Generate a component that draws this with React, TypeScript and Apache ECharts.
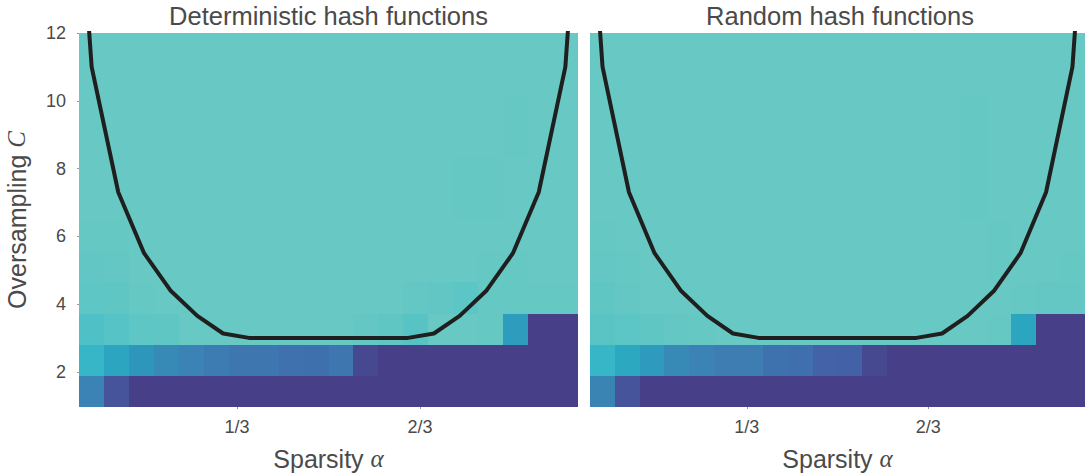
import React, { useEffect, useRef } from "react";
import * as echarts from "echarts";

// Panel headings
const panelTitles = ["Deterministic hash functions", "Random hash functions"];

// Axis extents and tick labels
const alphaRange = [1 / 22, 21 / 22];
const cRange = [0.96, 12];
const alphaTicks = [1 / 3, 2 / 3];
const alphaTickLabels = ["1/3", "2/3"];
const cTicks = [2, 4, 6, 8, 10, 12];

// Recovery rate per cell: rows are oversampling bins (bottom first), columns are sparsity bins
const detRows: number[][] = [
  [0.57, 0.21, 0, 0, 0, 0, 0, 0, 0, 0, 0, 0, 0, 0, 0, 0, 0, 0, 0, 0],
  [0.82, 0.76, 0.69, 0.62, 0.57, 0.52, 0.49, 0.48, 0.44, 0.43, 0.49, 0.11, 0, 0, 0, 0, 0, 0, 0, 0],
  [0.88, 0.91, 0.95, 0.96, 1, 1, 1, 1, 1, 1, 1, 0.98, 0.96, 0.92, 1, 1, 0.99, 0.72, 0, 0],
  [0.95, 0.96, 0.99, 1, 1, 1, 1, 1, 1, 1, 1, 1, 1, 0.98, 0.97, 0.94, 0.99, 0.99, 0.99, 0.99],
  [0.97, 0.98, 1, 1, 1, 1, 1, 1, 1, 1, 1, 1, 1, 1, 1, 1, 0.99, 0.99, 1, 1],
  [0.99, 0.99, 1, 1, 1, 1, 1, 1, 1, 1, 1, 1, 1, 1, 1, 1, 1, 1, 1, 1],
  [1, 1, 1, 1, 1, 1, 1, 1, 1, 1, 1, 1, 1, 1, 1, 0.99, 0.99, 1, 1, 1],
  [1, 1, 1, 1, 1, 1, 1, 1, 1, 1, 1, 1, 1, 1, 1, 0.99, 0.99, 1, 1, 1],
  [1, 1, 1, 1, 1, 1, 1, 1, 1, 1, 1, 1, 1, 1, 1, 1, 1, 0.99, 1, 1],
  [1, 1, 1, 1, 1, 1, 1, 1, 1, 1, 1, 1, 1, 1, 1, 1, 1, 0.99, 1, 1],
  [1, 1, 1, 1, 1, 1, 1, 1, 1, 1, 1, 1, 1, 1, 1, 1, 1, 1, 1, 1],
  [1, 1, 1, 1, 1, 1, 1, 1, 1, 1, 1, 1, 1, 1, 1, 1, 1, 1, 1, 1],
];

const randRows: number[][] = [
  [0.58, 0.21, 0, 0, 0, 0, 0, 0, 0, 0, 0, 0, 0, 0, 0, 0, 0, 0, 0, 0],
  [0.82, 0.77, 0.71, 0.62, 0.57, 0.53, 0.53, 0.45, 0.42, 0.31, 0.3, 0.11, 0, 0, 0, 0, 0, 0, 0, 0],
  [0.93, 0.94, 0.96, 0.98, 0.99, 1, 1, 1, 1, 1, 1, 1, 1, 1, 1, 1, 0.99, 0.76, 0, 0],
  [0.96, 0.98, 1, 1, 1, 1, 1, 1, 1, 1, 1, 1, 1, 1, 1, 1, 1, 0.99, 0.98, 0.98],
  [0.98, 0.99, 1, 1, 1, 1, 1, 1, 1, 1, 1, 1, 1, 1, 1, 1, 0.99, 1, 1, 0.99],
  [0.99, 1, 1, 1, 1, 1, 1, 1, 1, 1, 1, 1, 1, 1, 1, 1, 0.99, 1, 1, 1],
  [1, 1, 1, 1, 1, 1, 1, 1, 1, 1, 1, 1, 1, 1, 1, 0.99, 1, 1, 1, 1],
  [1, 1, 1, 1, 1, 1, 1, 1, 1, 1, 1, 1, 1, 1, 1, 0.99, 1, 1, 1, 1],
  [1, 1, 1, 1, 1, 1, 1, 1, 1, 1, 1, 1, 1, 1, 1, 0.99, 1, 1, 1, 1],
  [1, 1, 1, 1, 1, 1, 1, 1, 1, 1, 1, 1, 1, 1, 1, 0.99, 1, 1, 1, 1],
  [1, 1, 1, 1, 1, 1, 1, 1, 1, 1, 1, 1, 1, 1, 1, 1, 1, 1, 1, 1],
  [1, 1, 1, 1, 1, 1, 1, 1, 1, 1, 1, 1, 1, 1, 1, 1, 1, 1, 1, 1],
];

// Theoretical phase-transition boundary
const boundaryAlpha = [
  0.0205, 0.0685, 0.117, 0.164, 0.212, 0.261, 0.308, 0.355, 0.4025, 0.45, 0.5,
  0.55, 0.5975, 0.645, 0.692, 0.739, 0.788, 0.836, 0.883, 0.9315, 0.9795,
];
const boundaryC = [
  22, 11.0, 7.3, 5.5, 4.4, 3.65, 3.13, 3.0, 3.0, 3.0, 3.0,
  3.0, 3.0, 3.0, 3.13, 3.65, 4.4, 5.5, 7.3, 11.0, 22,
];

// Colour scale: rate -> colour
const colormap: [number, string][] = [
  [0.0, "#483F89"],
  [0.1, "#46478F"],
  [0.2, "#45529A"],
  [0.3, "#4361A6"],
  [0.4, "#3F6CAD"],
  [0.48, "#3E76B0"],
  [0.55, "#3D80B3"],
  [0.62, "#378AB6"],
  [0.7, "#2E98BC"],
  [0.76, "#2BA5C0"],
  [0.82, "#36B6C6"],
  [0.88, "#4FC0C6"],
  [0.94, "#5CC5C5"],
  [1.0, "#68C8C3"],
];

const hexToRgb = (h: string) => [
  parseInt(h.slice(1, 3), 16),
  parseInt(h.slice(3, 5), 16),
  parseInt(h.slice(5, 7), 16),
];

function colorFor(v: number): string {
  if (v <= colormap[0][0]) return colormap[0][1];
  for (let i = 1; i < colormap.length; i++) {
    const [v1, c1] = colormap[i];
    if (v <= v1) {
      const [v0, c0] = colormap[i - 1];
      const t = (v - v0) / (v1 - v0);
      const a = hexToRgb(c0);
      const b = hexToRgb(c1);
      const m = a.map((x, k) => Math.round(x + (b[k] - x) * t));
      return `rgb(${m[0]},${m[1]},${m[2]})`;
    }
  }
  return colormap[colormap.length - 1][1];
}

const SANS = "'Liberation Sans', Arial, Helvetica, sans-serif";
const MATH = "'Liberation Serif', 'DejaVu Serif', serif";
const TEXT = "#4a4a4a";

const grids = [
  { left: 79, top: 33, width: 499, height: 374 },
  { left: 590, top: 33, width: 500, height: 374 },
];

function heatSeries(rows: number[][], idx: number) {
  const nC = rows.length;
  const nA = rows[0].length;
  const data: number[][] = [];
  rows.forEach((row, r) => row.forEach((v, c) => data.push([c, r, v])));
  const aw = (alphaRange[1] - alphaRange[0]) / nA;
  const ch = (cRange[1] - cRange[0]) / nC;
  return {
    type: "custom",
    xAxisIndex: idx,
    yAxisIndex: idx,
    silent: true,
    z: 1,
    dimensions: ["col", "row", "rate"],
    encode: { x: -1, y: -1 },
    data,
    renderItem: (_params: any, api: any) => {
      const c = api.value(0);
      const r = api.value(1);
      const v = api.value(2);
      const p0 = api.coord([alphaRange[0] + c * aw, cRange[0] + (r + 1) * ch]);
      const p1 = api.coord([alphaRange[0] + (c + 1) * aw, cRange[0] + r * ch]);
      // snap to whole pixels so neighbouring cells meet without seams
      const x0 = Math.round(p0[0]);
      const y0 = Math.round(p0[1]);
      const x1 = Math.round(p1[0]);
      const y1 = Math.round(p1[1]);
      return {
        type: "rect",
        shape: { x: x0, y: y0, width: x1 - x0, height: y1 - y0 },
        style: { fill: colorFor(v) },
      };
    },
  };
}

function boundarySeries(idx: number) {
  return {
    type: "line",
    xAxisIndex: idx,
    yAxisIndex: idx,
    data: boundaryAlpha.map((a, i) => [a, boundaryC[i]]),
    symbol: "none",
    clip: true,
    silent: true,
    z: 5,
    lineStyle: { color: "#1f1f1f", width: 4 },
  };
}

const alphaFormatter = (v: number) => {
  const i = alphaTicks.findIndex((t) => Math.abs(t - v) < 1e-6);
  return i >= 0 ? alphaTickLabels[i] : "";
};

function xAxis(idx: number) {
  return {
    type: "value",
    gridIndex: idx,
    min: alphaRange[0],
    max: alphaRange[1],
    axisLine: { show: false },
    splitLine: { show: false },
    axisTick: {
      show: true,
      customValues: alphaTicks,
      length: 2,
      lineStyle: { color: "#9a9a9a", width: 1 },
    },
    axisLabel: {
      customValues: alphaTicks,
      formatter: alphaFormatter,
      fontSize: 18,
      fontFamily: SANS,
      color: TEXT,
      margin: 11,
    },
    name: "Sparsity {m|α}",
    nameLocation: "middle",
    nameGap: 39,
    nameTextStyle: {
      fontSize: 25,
      fontFamily: SANS,
      color: TEXT,
      rich: {
        m: { fontSize: 25, fontFamily: MATH, fontStyle: "italic", color: TEXT },
      },
    },
  };
}

function yAxis(idx: number) {
  const first = idx === 0;
  return {
    type: "value",
    gridIndex: idx,
    min: cRange[0],
    max: cRange[1],
    axisLine: { show: false },
    splitLine: { show: false },
    axisTick: {
      show: first,
      customValues: cTicks,
      length: 2,
      lineStyle: { color: "#9a9a9a", width: 1 },
    },
    axisLabel: {
      show: first,
      customValues: cTicks,
      fontSize: 18,
      fontFamily: SANS,
      color: TEXT,
      margin: 13,
    },
    name: first ? "Oversampling {m|C}" : "",
    nameLocation: "middle",
    nameGap: 50,
    nameRotate: 90,
    nameTextStyle: {
      fontSize: 25,
      fontFamily: SANS,
      color: TEXT,
      rich: {
        m: { fontSize: 25, fontFamily: MATH, fontStyle: "italic", color: TEXT },
      },
    },
  };
}

export default function App() {
  const ref = useRef<HTMLDivElement>(null);

  useEffect(() => {
    if (!ref.current) return;
    const chart = echarts.init(ref.current, null, { renderer: "svg" });
    chart.setOption({
      animation: false,
      backgroundColor: "#ffffff",
      grid: grids,
      xAxis: [xAxis(0), xAxis(1)],
      yAxis: [yAxis(0), yAxis(1)],
      graphic: panelTitles.map((t, i) => ({
        type: "text",
        x: grids[i].left + grids[i].width / 2,
        y: 16,
        style: {
          text: t,
          textAlign: "center",
          textVerticalAlign: "middle",
          fontSize: 25.5,
          fontFamily: SANS,
          fill: TEXT,
        },
      })),
      series: [
        heatSeries(detRows, 0),
        heatSeries(randRows, 1),
        boundarySeries(0),
        boundarySeries(1),
      ],
    });
    return () => chart.dispose();
  }, []);

  return (
    <div
      ref={ref}
      style={{ position: "fixed", left: 0, top: 0, width: 1085, height: 476 }}
    />
  );
}
